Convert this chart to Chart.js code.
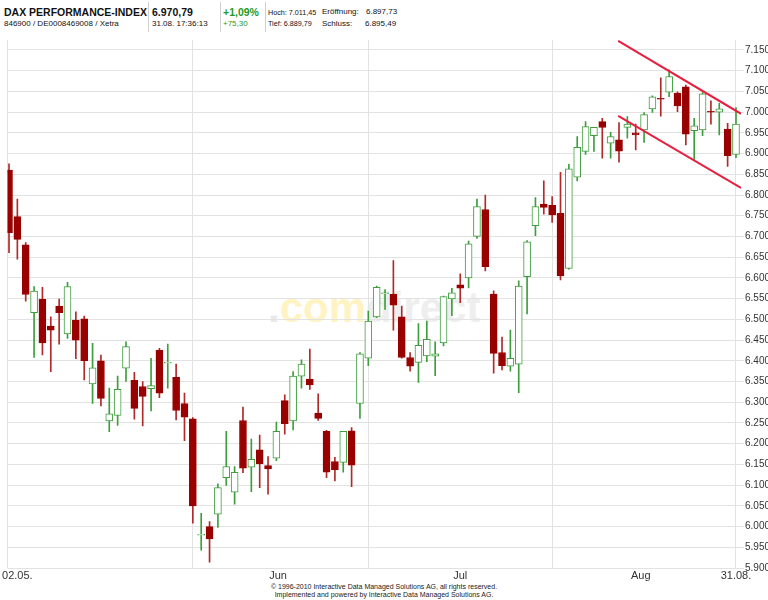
<!DOCTYPE html>
<html>
<head>
<meta charset="utf-8">
<script src="https://cdn.jsdelivr.net/npm/chart.js@4/dist/chart.umd.min.js"></script>
<style>
  html, body { margin: 0; padding: 0; background: #fff; }
  #wrap { position: relative; width: 768px; height: 600px; overflow: hidden;
          font-family: 'Liberation Sans', Arial, sans-serif; color: #111; }
  #chart { position: absolute; left: 0; top: 0; z-index: 2; }
  .hd { position: absolute; white-space: nowrap; line-height: 1; }
  .big { font-size: 10.5px; font-weight: bold; }
  .sm { font-size: 8px; }
  .xs { font-size: 7.2px; }
  .grn { color: #1f9a1f; }
  .sep { position: absolute; top: 2px; width: 1px; height: 30px; background: #d0d0d0; }
  .wm { position: absolute; left: 268px; top: 284px; line-height: 1; z-index: 1;
        font: bold 42px 'Liberation Sans', Arial, sans-serif; white-space: nowrap; }
  .ft { position: absolute; left: 0; width: 768px; text-align: center; line-height: 1;
        font-size: 7px; font-family: 'Liberation Sans Narrow', 'Liberation Sans', Arial, sans-serif; color: #222; }
</style>
</head>
<body>
<div id="wrap">
  <div class="hd big" style="left:4px;top:7px">DAX PERFORMANCE-INDEX</div>
  <div class="hd sm" style="left:4px;top:20px">846900 / DE0008469008 / Xetra</div>
  <div class="sep" style="left:148px"></div>
  <div class="hd big" style="left:152px;top:7px">6.970,79</div>
  <div class="hd sm" style="left:152px;top:20px">31.08. 17:36:13</div>
  <div class="sep" style="left:220px"></div>
  <div class="hd big grn" style="left:223px;top:7px">+1,09%</div>
  <div class="hd sm grn" style="left:223px;top:20px">+75,30</div>
  <div class="sep" style="left:265px"></div>
  <div class="hd xs" style="left:268px;top:9px">Hoch: 7.011,45</div>
  <div class="hd xs" style="left:268px;top:20px">Tief: 6.889,79</div>
  <div class="hd sm" style="left:322px;top:8px">Eröffnung:</div>
  <div class="hd sm" style="left:366px;top:8px">6.897,73</div>
  <div class="hd sm" style="left:322px;top:20px">Schluss:</div>
  <div class="hd sm" style="left:365px;top:20px">6.895,49</div>

  <div class="wm"><span style="color:#e9e9e9">.</span><span style="color:#fff3c4">com</span><span style="color:#eeeeee">direct</span></div>

  <canvas id="chart" width="768" height="600"></canvas>

  <div class="ft" style="top:583px">© 1996-2010 Interactive Data Managed Solutions AG, all rights reserved.</div>
  <div class="ft" style="top:591px">Implemented and powered by Interactive Data Managed Solutions AG.</div>
</div>

<script>
// ─── Data (daily candles, 02.05. – 31.08.) ────────────────────────────────────
const opens = [
  6860, 6748, 6680, 6516, 6548, 6484, 6532, 6465, 6498, 6501,
  6344, 6400, 6255, 6268, 6382, 6353, 6338, 6333, 6425, 6394,
  6360, 6297, 6260, 5979, 6000, 6030, 6118, 6083, 6256, 6143,
  6185, 6147, 6165, 6304, 6255, 6363, 6356, 6274, 6230, 6157,
  6155, 6231, 6297, 6406, 6506, 6562, 6561, 6506, 6408, 6396,
  6412, 6411, 6443, 6549, 6583, 6600, 6700, 6765, 6561, 6420,
  6387, 6392, 6603, 6726, 6778, 6775, 6756, 6623, 6843, 6905,
  6943, 6977, 6925, 6933, 6963, 6950, 6957, 7008, 7033, 7048,
  7046, 7061, 6955, 6957, 7002, 7000, 6959, 6898,
];
const highs = [
  6875, 6790, 6685, 6579, 6577, 6506, 6549, 6589, 6518, 6508,
  6442, 6414, 6334, 6363, 6446, 6372, 6350, 6406, 6430, 6440,
  6392, 6322, 6263, 6032, 6012, 6103, 6230, 6145, 6288, 6211,
  6221, 6169, 6252, 6318, 6374, 6402, 6428, 6320, 6232, 6167,
  6230, 6239, 6420, 6520, 6580, 6572, 6642, 6532, 6420, 6490,
  6496, 6446, 6556, 6575, 6610, 6689, 6790, 6800, 6569, 6457,
  6474, 6593, 6690, 6794, 6834, 6796, 6855, 6874, 6941, 6977,
  6963, 6985, 6951, 6975, 6989, 6971, 6999, 7039, 7083, 7102,
  7049, 7065, 6985, 7047, 7027, 7021, 6973, 7011,
];
const lows = [
  6661, 6645, 6544, 6408, 6414, 6374, 6440, 6454, 6405, 6354,
  6297, 6291, 6229, 6244, 6350, 6259, 6243, 6279, 6311, 6334,
  6257, 6207, 6008, 5943, 5914, 5998, 6099, 6054, 6130, 6084,
  6094, 6078, 6159, 6223, 6233, 6334, 6331, 6256, 6118, 6110,
  6131, 6096, 6261, 6388, 6504, 6524, 6474, 6406, 6375, 6348,
  6398, 6364, 6436, 6509, 6540, 6576, 6695, 6617, 6370, 6378,
  6375, 6323, 6513, 6702, 6754, 6734, 6595, 6621, 6834, 6898,
  6905, 6889, 6889, 6879, 6937, 6909, 6927, 6999, 6990, 7037,
  7001, 6921, 6885, 6943, 6971, 6945, 6869, 6890,
];
const closes = [
  6709, 6693, 6560, 6568, 6443, 6474, 6516, 6579, 6450, 6400,
  6383, 6309, 6272, 6331, 6434, 6285, 6314, 6340, 6322, 6396,
  6280, 6264, 6050, 5981, 5970, 6094, 6145, 6131, 6141, 6162,
  6152, 6139, 6230, 6248, 6363, 6392, 6342, 6261, 6131, 6137,
  6230, 6148, 6417, 6496, 6577, 6564, 6534, 6408, 6387, 6437,
  6452, 6417, 6555, 6564, 6575, 6682, 6772, 6627, 6418, 6388,
  6406, 6580, 6687, 6772, 6770, 6752, 6605, 6863, 6915, 6965,
  6963, 6963, 6941, 6906, 6971, 6945, 6994, 7037, 7031, 7086,
  7015, 6947, 6967, 7044, 7000, 7008, 6895, 6971,
];

// x axis: vertical grid at these candle indices, labels at these positions
const gridIdx = [-0.18, 22, 43, 65, 87];
const xLabels = ['02.05.', 'Jun', 'Jul', 'Aug', '31.08.'];
const xLabelIdx = [1, 32.2, 54, 75.6, 87];

// drawn trend channel (candle index, value)
const trendIdx = [72.9, 87.6];
const trendUpper = [7172, 6996];
const trendLower = [6991, 6817];

const X_MIN = -0.18, X_MAX = 87.6;
const Y_MIN = 5900, Y_MAX = 7174;

// ─── Chart ────────────────────────────────────────────────────────────────────
const UP = '#3e9e3e', DOWN = '#990000', DOWN_WICK = '#b02a2a';
const GRID = '#e2e2e2';
const isUp = closes.map((c, i) => c >= opens[i]);
const fontFam = "'Liberation Sans', Arial, sans-serif";
const fmt = v => { const s = String(v); return s.slice(0, -3) + '.' + s.slice(-3); };
const xTickVals = [...new Set([...gridIdx, ...xLabelIdx])].sort((a, b) => a - b);

const bodies = opens.map((o, i) => ({ x: i, y: [Math.min(o, closes[i]), Math.max(o, closes[i])] }));
const wicks = lows.map((l, i) => ({ x: i, y: [l, highs[i]] }));

new Chart(document.getElementById('chart').getContext('2d'), {
  type: 'bar',
  data: {
    datasets: [
      {
        type: 'line', order: 0,
        data: trendIdx.map((x, i) => ({ x, y: trendUpper[i] })),
        borderColor: '#e8203f', borderWidth: 2, pointRadius: 0,
      },
      {
        type: 'line', order: 0,
        data: trendIdx.map((x, i) => ({ x, y: trendLower[i] })),
        borderColor: '#e8203f', borderWidth: 2, pointRadius: 0,
      },
      {
        order: 1, grouped: false,
        data: bodies,
        backgroundColor: isUp.map(u => u ? '#ffffff' : DOWN),
        borderColor: isUp.map(u => u ? UP : DOWN),
        borderWidth: 1, borderSkipped: false, barThickness: 7,
      },
      {
        order: 2, grouped: false,
        data: wicks,
        backgroundColor: isUp.map(u => u ? UP : DOWN_WICK),
        borderWidth: 0, barThickness: 1,
      },
    ],
  },
  options: {
    responsive: false, animation: false, devicePixelRatio: 1,
    layout: { padding: { left: 7.5, top: 40, right: 0, bottom: 0 } },
    plugins: { legend: { display: false }, tooltip: { enabled: false } },
    scales: {
      x: {
        type: 'linear', position: 'bottom', min: X_MIN, max: X_MAX, offset: false,
        afterBuildTicks: s => { s.ticks = xTickVals.map(v => ({ value: v })); },
        afterFit: s => { s.height = 32; },
        ticks: {
          autoSkip: false, maxRotation: 0, padding: 1,
          callback: v => { const k = xLabelIdx.indexOf(v); return k >= 0 ? xLabels[k] : ''; },
          color: '#333', font: { size: 11, family: "'Liberation Sans Narrow', " + fontFam },
        },
        grid: {
          offset: false, drawTicks: false,
          color: c => (c.tick && gridIdx.includes(c.tick.value)) ? GRID : 'rgba(0,0,0,0)',
        },
        border: { display: false },
      },
      y: {
        position: 'right', min: Y_MIN, max: Y_MAX,
        afterFit: s => { s.width = 27; },
        ticks: { stepSize: 50, includeBounds: false, callback: v => fmt(v), color: '#333', padding: 1,
                 font: { size: 10, family: fontFam } },
        grid: { color: GRID, tickLength: 3 },
        border: { display: false },
      },
    },
  },
});
</script>
</body>
</html>
